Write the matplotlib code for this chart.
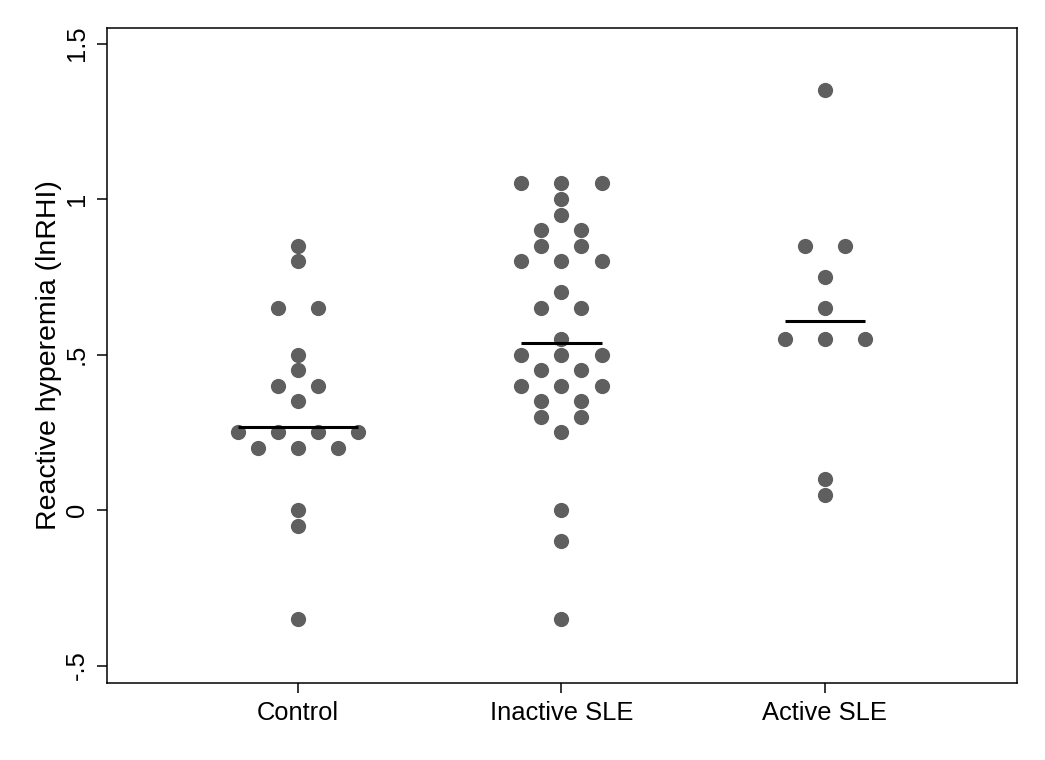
import matplotlib
matplotlib.use("Agg")
import matplotlib.pyplot as plt
import numpy as np

plt.rcParams['font.family'] = ['Liberation Sans', 'DejaVu Sans']

groups = ["Control", "Inactive SLE", "Active SLE"]

control = [-0.35, -0.05, 0.0, 0.2, 0.2, 0.2, 0.25, 0.25, 0.25, 0.25,
           0.35, 0.4, 0.4, 0.45, 0.5, 0.65, 0.65, 0.8, 0.85]
inactive = [-0.35, -0.1, 0.0, 0.25, 0.3, 0.3, 0.35, 0.35, 0.4, 0.4, 0.4,
            0.45, 0.45, 0.5, 0.5, 0.5, 0.55, 0.65, 0.65, 0.7, 0.8, 0.8, 0.8,
            0.85, 0.85, 0.9, 0.9, 0.95, 1.0, 1.05, 1.05, 1.05]
active = [0.05, 0.1, 0.55, 0.55, 0.55, 0.65, 0.75, 0.85, 0.85, 1.35]
values = [control, inactive, active]

# horizontal line per group (as drawn in the chart)
centers = [0.268, 0.537, 0.608]

yticks = [-0.5, 0, 0.5, 1, 1.5]
ytick_labels = ["-.5", "0", ".5", "1", "1.5"]

dot_color = "#5f5f5f"
step = 0.152  # horizontal spacing between dots in the same bin

fig = plt.figure(figsize=(10.45, 7.6), dpi=100)
ax = fig.add_axes([0.1024, 0.1013, 0.8708, 0.8619])

for i, vals in enumerate(values):
    xpos = i + 1
    vals = np.array(vals)
    xs = []
    ys = []
    width = 0
    for v in np.unique(vals):
        n = int(np.sum(np.isclose(vals, v)))
        offs = (np.arange(n) - (n - 1) / 2) * step
        width = max(width, offs.max())
        xs.extend(xpos + offs)
        ys.extend([v] * n)
    ax.scatter(xs, ys, s=120, color=dot_color, zorder=2, linewidths=0)
    ax.plot([xpos - width, xpos + width], [centers[i], centers[i]],
            color="black", lw=2.2, zorder=3, solid_capstyle="butt")

ax.set_xlim(0.275, 3.729)
ax.set_ylim(-0.556, 1.55)
ax.set_xticks([1, 2, 3])
ax.set_xticklabels(groups, fontsize=18.4)
ax.set_yticks(yticks)
ax.set_yticklabels(ytick_labels, fontsize=18.4, rotation=90, va="center")
ax.set_ylabel("Reactive hyperemia (lnRHI)", fontsize=20.5, labelpad=2)
ax.tick_params(axis="both", length=7.2, width=1.1, color="black")
ax.tick_params(axis="x", pad=6)
ax.tick_params(axis="y", pad=6)
for sp in ax.spines.values():
    sp.set_linewidth(1.1)

fig.savefig("out.png", dpi=100)
